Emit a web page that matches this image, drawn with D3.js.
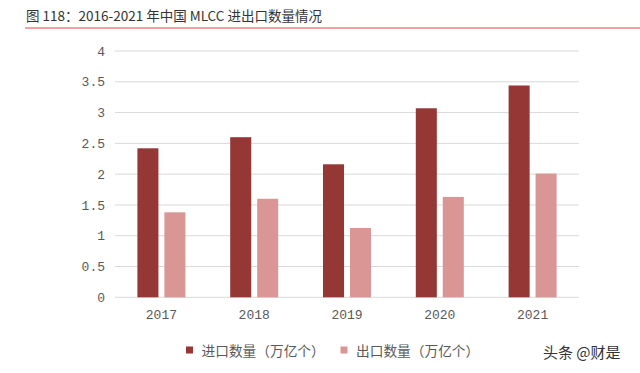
<!DOCTYPE html>
<html><head><meta charset="utf-8">
<script src="https://cdn.jsdelivr.net/npm/d3@7/dist/d3.min.js"></script>
<style>body{margin:0;background:#fff;}svg{display:block;}</style>
</head><body>
<svg id="c" width="640" height="373"></svg>
<script>
const categories = ["2017","2018","2019","2020","2021"];
const importValues = [2.42, 2.60, 2.16, 3.07, 3.44];
const exportValues = [1.38, 1.60, 1.125, 1.63, 2.01];
const seriesNames = ["进口数量（万亿个）","出口数量（万亿个）"];
const yTicks = [0,0.5,1,1.5,2,2.5,3,3.5,4];
const titleText = "图 118：2016-2021 年中国 MLCC 进出口数量情况";
const watermark = "头条 @财是";

const colors = ["#953735","#D99694"];
const svg = d3.select("#c");
const cjk = "'Noto Sans CJK SC', sans-serif";
const num = "'Liberation Mono', monospace";

// title
svg.append("text").attr("x",26).attr("y",21).attr("font-family",cjk).attr("font-size",13.5)
  .attr("fill","#333").text(titleText);
svg.append("rect").attr("x",25).attr("y",27).attr("width",615).attr("height",2).attr("fill","#f0a3a3");

const x0 = d3.scaleBand().domain(categories).range([115,579]).paddingInner(0).paddingOuter(0);
const y = d3.scaleLinear().domain([0,4]).range([297.3,51]);

const g = svg.append("g");
// gridlines
g.selectAll("line.grid").data(yTicks).join("line")
  .attr("x1",115).attr("x2",579).attr("y1",d=>y(d)).attr("y2",d=>y(d))
  .attr("stroke","#d9d9d9").attr("stroke-width",1);

const yAxis = d3.axisLeft(y).tickValues(yTicks).tickSize(0).tickPadding(10).tickFormat(d=>String(d));
const ya = svg.append("g").attr("transform","translate(115,0)").call(yAxis);
ya.select(".domain").remove();
ya.selectAll("text").attr("font-family",num).attr("font-size",13).attr("fill","#595959");

const xAxis = d3.axisBottom(x0).tickSize(0).tickPadding(12);
const xa = svg.append("g").attr("transform",`translate(0,${y(0)})`).call(xAxis);
xa.select(".domain").remove();
xa.selectAll("text").attr("font-family",num).attr("font-size",13).attr("fill","#595959");

const x1 = d3.scaleBand().domain([0,1]).range([0,48]).paddingInner(0.22);
const data = categories.map((c,i)=>({c, vals:[importValues[i], exportValues[i]]}));
const grp = g.selectAll("g.cat").data(data).join("g")
  .attr("transform",d=>`translate(${x0(d.c)+x0.bandwidth()/2-24},0)`);
grp.selectAll("rect").data(d=>d.vals.map((v,k)=>({v,k}))).join("rect")
  .attr("x",d=>x1(d.k)).attr("width",x1.bandwidth())
  .attr("y",d=>y(d.v)).attr("height",d=>y(0)-y(d.v))
  .attr("fill",d=>colors[d.k]);

// legend
const legX = [186, 340.5];
seriesNames.forEach((n,i)=>{
  svg.append("rect").attr("x",legX[i]).attr("y",346.5).attr("width",7).attr("height",7).attr("fill",colors[i]);
  svg.append("text").attr("x",legX[i]+15.5).attr("y",355.5).attr("font-family",cjk).attr("font-size",13.7)
    .attr("fill","#595959").text(n);
});

svg.append("text").attr("x",543).attr("y",357.5).attr("font-family",cjk).attr("font-size",15)
  .attr("fill","#333").text(watermark);
</script>
</body></html>
